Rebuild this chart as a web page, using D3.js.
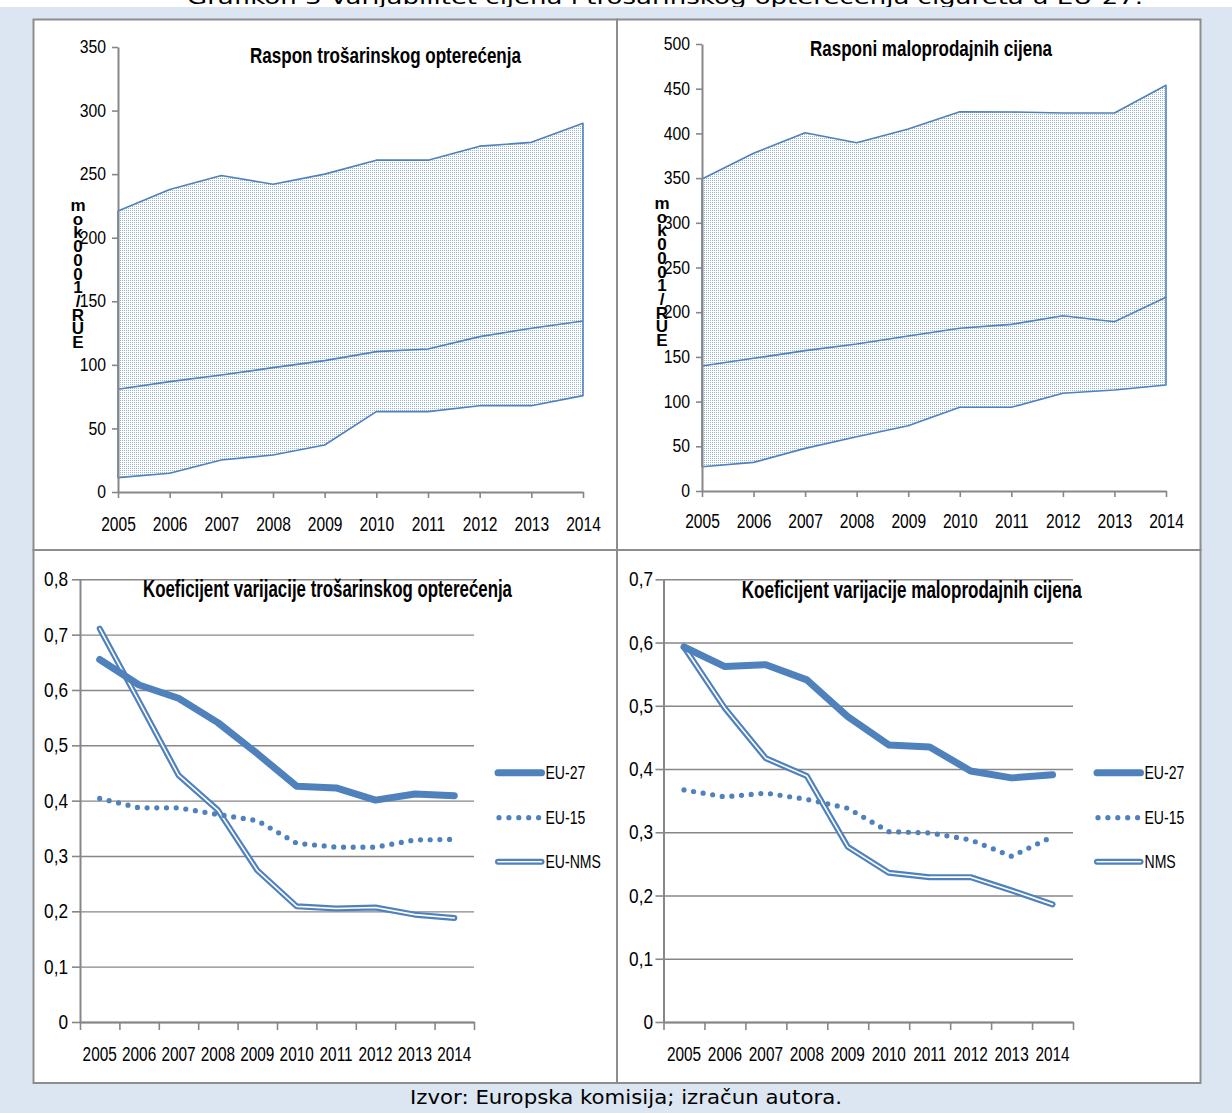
<!DOCTYPE html>
<html>
<head>
<meta charset="utf-8">
<script src="https://cdn.jsdelivr.net/npm/d3@7"></script>
<style>
  body { margin: 0; background: #fff; }
  svg { display: block; }
  text { font-family: "Liberation Sans", Arial, sans-serif; fill: #000; }
  text.verdana { font-family: "DejaVu Sans", Verdana, sans-serif; }
</style>
</head>
<body>
<svg id="c" width="1232" height="1113"></svg>
<script>
// ---- data -------------------------------------------------------------
const years = ["2005", "2006", "2007", "2008", "2009", "2010", "2011", "2012", "2013", "2014"];

// excise burden, EUR / 1000 pieces: minimum, median, maximum
const exciseMin = [11.3, 14.7, 25.2, 29.1, 37.0, 63.2, 63.2, 67.9, 67.9, 75.8];
const exciseMed = [80.8, 86.8, 92.0, 97.8, 103.3, 110.4, 112.5, 122.2, 128.8, 134.5];
const exciseMax = [221, 238, 249, 242, 250, 261, 261, 272, 275, 290];

// retail prices, EUR / 1000 pieces: minimum, median, maximum
const priceMin = [27.2, 32.0, 47.7, 60.7, 73.0, 93.6, 93.6, 109.3, 113.0, 118.6];
const priceMed = [139.8, 148.4, 157.0, 164.4, 173.4, 182.0, 186.4, 196.0, 189.4, 216.7];
const priceMax = [349, 377.7, 400.8, 389.6, 405, 424.3, 424, 422.8, 422.8, 453.8];

// coefficients of variation
const cvExciseEU27 = [0.655, 0.609, 0.585, 0.541, 0.485, 0.426, 0.423, 0.401, 0.412, 0.409];
const cvExciseEU15 = [0.404, 0.387, 0.387, 0.375, 0.364, 0.323, 0.316, 0.316, 0.329, 0.330];
const cvExciseNMS  = [0.711, 0.579, 0.446, 0.383, 0.274, 0.209, 0.205, 0.207, 0.194, 0.188];

const cvPriceEU27 = [0.593, 0.562, 0.565, 0.541, 0.483, 0.438, 0.435, 0.397, 0.386, 0.391];
const cvPriceEU15 = [0.367, 0.356, 0.362, 0.352, 0.338, 0.301, 0.299, 0.288, 0.262, 0.293];
const cvPriceNMS  = [0.593, 0.496, 0.417, 0.389, 0.277, 0.236, 0.229, 0.229, 0.208, 0.186];

const rangeTicksExcise = [0, 50, 100, 150, 200, 250, 300, 350];
const rangeTicksPrice  = [0, 50, 100, 150, 200, 250, 300, 350, 400, 450, 500];
const cvTicksExcise = [0, 0.1, 0.2, 0.3, 0.4, 0.5, 0.6, 0.7, 0.8];
const cvTicksPrice  = [0, 0.1, 0.2, 0.3, 0.4, 0.5, 0.6, 0.7];

const legendExcise = ["EU-27", "EU-15", "EU-NMS"];
const legendPrice  = ["EU-27", "EU-15", "NMS"];

const unitLabel = "EUR/1000kom";
const heading = "Grafikon 3 Varijabilitet cijena i trošarinskog opterećenja cigareta u EU-27.";
const source = "Izvor: Europska komisija; izračun autora.";

// ---- drawing ----------------------------------------------------------
const svg = d3.select("#c");
const blue = "#4f81bd";
const grey = "#878787";

// narrow the glyphs of a text selection horizontally
function squeeze(sel, f) {
  sel.each(function () {
    const w = this.getComputedTextLength();
    d3.select(this).attr("textLength", w * f).attr("lengthAdjust", "spacingAndGlyphs");
  });
}
function fitText(g, x, y, str, size, width, opts = {}) {
  return g.append("text")
    .attr("class", opts.cls || null)
    .attr("x", x).attr("y", y)
    .attr("font-size", size)
    .attr("font-weight", opts.bold ? "bold" : null)
    .attr("text-anchor", opts.anchor || "start")
    .attr("textLength", width).attr("lengthAdjust", "spacingAndGlyphs")
    .text(str);
}

svg.append("rect").attr("width", 1232).attr("height", 1113).attr("fill", "#fff");
fitText(svg, 187, 4, heading, 20, 956, { cls: "verdana" });
svg.append("rect").attr("y", 7).attr("width", 1232).attr("height", 1106).attr("fill", "#dce6f2");

const defs = svg.append("defs");
const pat = defs.append("pattern").attr("id", "dots")
  .attr("width", 2).attr("height", 2).attr("patternUnits", "userSpaceOnUse");
pat.append("rect").attr("width", 2).attr("height", 2).attr("fill", "#fff");
pat.append("rect").attr("width", 1).attr("height", 1).attr("fill", "#98b4dc");

// panel frames
[[33.5, 19.5, 583.5, 530.5], [617, 19.5, 583.5, 530.5],
 [33.5, 550, 583.5, 533], [617, 550, 583.5, 533]].forEach(([x, y, w, h]) => {
  svg.append("rect").attr("x", x).attr("y", y).attr("width", w).attr("height", h)
    .attr("fill", "#fff").attr("stroke", "#8d8d8d").attr("stroke-width", 2);
});

function styleAxis(g) {
  g.attr("font-family", null);
  g.select(".domain").attr("stroke", grey).attr("stroke-width", 2);
  g.selectAll(".tick line").attr("stroke", grey).attr("stroke-width", 1.6);
  g.selectAll("text").attr("fill", "#000");
}

// ---- range charts (top row) ----
function rangeChart(o) {
  const g = svg.append("g");
  const x = d3.scalePoint().domain(years).range([o.x0, o.x1]);
  const y = d3.scaleLinear().domain([0, o.max]).range([o.y0, o.yTop]);

  const area = d3.area()
    .x((d, i) => x(years[i]))
    .y0(d => y(d[0]))
    .y1(d => y(d[1]));
  g.append("path").datum(d3.zip(o.lo, o.hi)).attr("d", area)
    .attr("fill", "url(#dots)").attr("stroke", blue).attr("stroke-width", 1.6)
    .attr("stroke-linejoin", "round");
  g.append("path").datum(o.mid)
    .attr("d", d3.line().x((d, i) => x(years[i])).y(d => y(d)))
    .attr("fill", "none").attr("stroke", blue).attr("stroke-width", 1.6);

  const ya = g.append("g").attr("transform", `translate(${o.x0},0)`)
    .call(d3.axisLeft(y).tickValues(o.ticks).tickSize(6).tickSizeOuter(0).tickPadding(6).tickFormat(d3.format("d")));
  styleAxis(ya);
  ya.selectAll("text").attr("font-size", 17.5);
  squeeze(ya.selectAll("text"), 0.9);

  const xa = g.append("g").attr("transform", `translate(0,${o.y0})`)
    .call(d3.axisBottom(x).tickSize(6).tickSizeOuter(0));
  styleAxis(xa);
  xa.selectAll("text").attr("font-size", 20.5).attr("dy", null).attr("y", o.labelY);
  squeeze(xa.selectAll("text"), 0.76);

  fitText(g, o.titleX, o.titleY, o.title, 21.5, o.titleW, { bold: true });

  // unit label, one upright character per row
  const chars = Array.from(unitLabel).reverse();
  g.selectAll("text.unit").data(chars).join("text").attr("class", "unit")
    .attr("x", o.unitX).attr("y", (d, i) => o.unitY + i * o.unitStep)
    .attr("text-anchor", "middle").attr("font-weight", "bold").attr("font-size", 17)
    .text(d => d);
}

rangeChart({
  x0: 118, x1: 583, y0: 492, yTop: 47, max: 350, ticks: rangeTicksExcise,
  lo: exciseMin, mid: exciseMed, hi: exciseMax, labelY: 38.5,
  title: "Raspon trošarinskog opterećenja", titleX: 250, titleY: 62.5, titleW: 271,
  unitX: 78, unitY: 211, unitStep: 13.7
});
rangeChart({
  x0: 702, x1: 1166, y0: 491, yTop: 44, max: 500, ticks: rangeTicksPrice,
  lo: priceMin, mid: priceMed, hi: priceMax, labelY: 37,
  title: "Rasponi maloprodajnih cijena", titleX: 810, titleY: 56, titleW: 242,
  unitX: 662, unitY: 209, unitStep: 13.7
});

// ---- coefficient of variation charts (bottom row) ----
function cvChart(o) {
  const g = svg.append("g");
  const x = d3.scaleBand().domain(years).range([o.x0, o.x1]).padding(0);
  const xc = d => x(d) + x.bandwidth() / 2;
  const y = d3.scaleLinear().domain([0, o.max]).range([o.y0, o.yTop]);
  const w = o.x1 - o.x0;

  // gridlines
  const grid = g.append("g").attr("transform", `translate(${o.x0},0)`)
    .call(d3.axisRight(y).tickValues(o.ticks).tickSize(w).tickFormat(""));
  grid.select(".domain").remove();
  grid.selectAll(".tick line").attr("stroke", grey).attr("stroke-width", 1.4);

  const ya = g.append("g").attr("transform", `translate(${o.x0},0)`)
    .call(d3.axisLeft(y).tickValues(o.ticks).tickSize(8).tickSizeOuter(0).tickPadding(o.yPad)
      .tickFormat(d => d === 0 ? "0" : d3.format(".1f")(d).replace(".", ",")));
  styleAxis(ya);
  ya.selectAll("text").attr("font-size", 20.5);
  squeeze(ya.selectAll("text"), 0.84);

  // category boundary ticks
  const xb = d3.scaleLinear().domain([0, years.length]).range([o.x0, o.x1]);
  const xt = g.append("g").attr("transform", `translate(0,${o.y0})`)
    .call(d3.axisBottom(xb).ticks(years.length).tickSize(8).tickSizeOuter(0).tickFormat(""));
  styleAxis(xt);
  const xa = g.append("g").attr("transform", `translate(0,${o.y0})`)
    .call(d3.axisBottom(x).tickSize(0).tickSizeOuter(0));
  xa.attr("font-family", null);
  xa.select(".domain").remove();
  xa.selectAll("text").attr("fill", "#000").attr("font-size", 20.5).attr("dy", null).attr("y", 38.5);
  squeeze(xa.selectAll("text"), 0.75);

  const line = d3.line().x((d, i) => xc(years[i])).y(d => y(d));
  // NMS: double line
  g.append("path").datum(o.nms).attr("d", line).attr("fill", "none")
    .attr("stroke", blue).attr("stroke-width", 6).attr("stroke-linejoin", "round").attr("stroke-linecap", "round");
  g.append("path").datum(o.nms).attr("d", line).attr("fill", "none")
    .attr("stroke", "#fff").attr("stroke-width", 1.6).attr("stroke-linejoin", "round").attr("stroke-linecap", "round");
  // EU-15: round dots
  g.append("path").datum(o.eu15).attr("d", line).attr("fill", "none")
    .attr("stroke", blue).attr("stroke-width", 5.2).attr("stroke-linecap", "round").attr("stroke-dasharray", "0 9.7");
  // EU-27: thick solid
  g.append("path").datum(o.eu27).attr("d", line).attr("fill", "none")
    .attr("stroke", blue).attr("stroke-width", 7).attr("stroke-linejoin", "round").attr("stroke-linecap", "round");

  fitText(g, o.titleX, o.titleY, o.title, 23.5, o.titleW, { bold: true });

  // legend
  const rows = [772.7, 817.7, 861.7];
  const lx0 = o.legX, lx1 = o.legX + 43.5;
  const sample = d3.line();
  const lg = g.append("g");
  lg.append("path").attr("d", sample([[lx0, rows[0]], [lx1, rows[0]]]))
    .attr("stroke", blue).attr("stroke-width", 7).attr("stroke-linecap", "round");
  lg.append("path").attr("d", sample([[lx0 + 1, rows[1]], [lx1, rows[1]]]))
    .attr("stroke", blue).attr("stroke-width", 5.2).attr("stroke-linecap", "round").attr("stroke-dasharray", "0 9.9");
  lg.append("path").attr("d", sample([[lx0, rows[2]], [lx1, rows[2]]]))
    .attr("stroke", blue).attr("stroke-width", 6).attr("stroke-linecap", "round");
  lg.append("path").attr("d", sample([[lx0, rows[2]], [lx1, rows[2]]]))
    .attr("stroke", "#fff").attr("stroke-width", 1.6).attr("stroke-linecap", "round");
  lg.selectAll("text").data(o.legend).join("text")
    .attr("x", lx1 + 4).attr("y", (d, i) => rows[i] + 6.5)
    .attr("font-size", 18).text(d => d)
    .call(s => squeeze(s, 0.78));
}

cvChart({
  x0: 80, x1: 474, y0: 1022, yTop: 579.3, max: 0.8, ticks: cvTicksExcise, yPad: 4,
  eu27: cvExciseEU27, eu15: cvExciseEU15, nms: cvExciseNMS,
  title: "Koeficijent varijacije trošarinskog opterećenja", titleX: 143, titleY: 597, titleW: 369,
  legX: 498, legend: legendExcise
});
cvChart({
  x0: 663.5, x1: 1073, y0: 1022, yTop: 579.3, max: 0.7, ticks: cvTicksPrice, yPad: 2.5,
  eu27: cvPriceEU27, eu15: cvPriceEU15, nms: cvPriceNMS,
  title: "Koeficijent varijacije maloprodajnih cijena", titleX: 741.7, titleY: 598, titleW: 340,
  legX: 1097, legend: legendPrice
});

fitText(svg, 410, 1104, source, 19, 432, { cls: "verdana" });
</script>
</body>
</html>
